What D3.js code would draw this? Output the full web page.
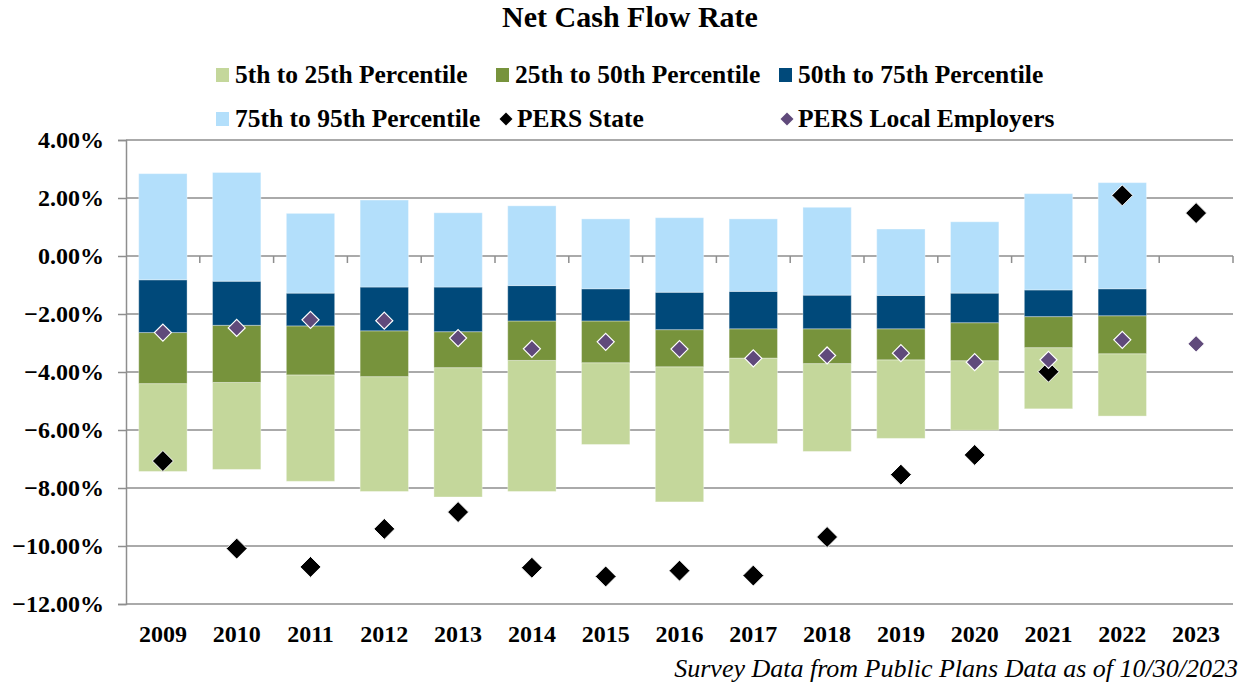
<!DOCTYPE html>
<html>
<head>
<meta charset="utf-8">
<script src="https://cdn.jsdelivr.net/npm/d3@7"></script>
<style>
  body { margin: 0; background: #fff; }
  text { font-family: "Liberation Serif", "Times New Roman", serif; }
</style>
</head>
<body>
<div id="chart"></div>
<script>
// data (percent)
const years = ['2009', '2010', '2011', '2012', '2013', '2014', '2015', '2016', '2017', '2018', '2019', '2020', '2021', '2022', '2023'];
const p5 = [-7.43, -7.36, -7.77, -8.12, -8.31, -8.12, -6.50, -8.48, -6.47, -6.74, -6.29, -6.01, -5.27, -5.52, null];
const p25 = [-4.40, -4.36, -4.10, -4.16, -3.85, -3.60, -3.68, -3.82, -3.52, -3.71, -3.58, -3.61, -3.16, -3.37, null];
const p50 = [-2.64, -2.39, -2.41, -2.58, -2.61, -2.24, -2.24, -2.54, -2.51, -2.51, -2.51, -2.30, -2.09, -2.06, null];
const p75 = [-0.82, -0.87, -1.28, -1.07, -1.07, -1.02, -1.13, -1.25, -1.22, -1.35, -1.36, -1.28, -1.17, -1.13, null];
const p95 = [2.84, 2.88, 1.47, 1.93, 1.49, 1.73, 1.28, 1.32, 1.28, 1.68, 0.93, 1.18, 2.15, 2.53, null];
const persState = [-7.07, -10.09, -10.72, -9.41, -8.83, -10.75, -11.05, -10.85, -11.02, -9.69, -7.54, -6.86, -3.99, 2.09, 1.48];
const persLocal = [-2.64, -2.48, -2.20, -2.23, -2.83, -3.20, -2.96, -3.21, -3.53, -3.43, -3.35, -3.66, -3.58, -2.89, -3.03];
const yTicks = [4, 2, 0, -2, -4, -6, -8, -10, -12];

const title = 'Net Cash Flow Rate';
const note = 'Survey Data from Public Plans Data as of 10/30/2023';

const width = 1243;
const height = 686;
const paddingLeft = 126;
const paddingRight = 10;
const paddingTop = 140;
const paddingBottom = 82;

// segments: lower / upper percentile arrays
const bands = [
    { name: '5th to 25th Percentile', lo: p5, hi: p25, color: '#c4d79b' },
    { name: '25th to 50th Percentile', lo: p25, hi: p50, color: '#77933c' },
    { name: '50th to 75th Percentile', lo: p50, hi: p75, color: '#00497a' },
    { name: '75th to 95th Percentile', lo: p75, hi: p95, color: '#b3dffb' }
];

const svg = d3.select('#chart').append('svg')
    .attr('width', width)
    .attr('height', height);

const xScale = d3.scaleBand()
    .domain(years)
    .range([paddingLeft, width - paddingRight])
    .paddingInner(0.345)
    .paddingOuter(0.1725);

const yScale = d3.scaleLinear()
    .domain([-12, 4])
    .range([height - paddingBottom, paddingTop]);

// grid
svg.append('g')
    .selectAll('line')
    .data(yTicks)
    .join('line')
    .attr('x1', paddingLeft)
    .attr('x2', width - paddingRight)
    .attr('y1', (d) => yScale(d))
    .attr('y2', (d) => yScale(d))
    .attr('stroke', '#8e8e8e')
    .attr('stroke-width', 1.5);

// y axis
const yAxis = d3.axisLeft(yScale)
    .tickValues(yTicks)
    .tickSize(8)
    .tickPadding(14)
    .tickFormat((d) => d3.format('.2f')(d) + '%');
const gy = svg.append('g')
    .attr('transform', `translate(${paddingLeft},0)`)
    .call(yAxis);
gy.select('.domain').attr('stroke', '#8e8e8e').attr('stroke-width', 1.5);
gy.selectAll('.tick line').attr('stroke', '#8e8e8e').attr('stroke-width', 1.5);
gy.selectAll('.tick text')
    .attr('fill', '#000')
    .attr('font-size', 24)
    .attr('font-weight', 'bold');

// category ticks on the zero line
const step = xScale.step();
const boundaries = d3.range(1, years.length + 1).map((i) => paddingLeft + i * step);
svg.append('g')
    .selectAll('line')
    .data(boundaries)
    .join('line')
    .attr('x1', (d) => d)
    .attr('x2', (d) => d)
    .attr('y1', yScale(0))
    .attr('y2', yScale(0) + 7)
    .attr('stroke', '#8e8e8e')
    .attr('stroke-width', 1.5);

// bars
bands.forEach((b) => {
    svg.append('g')
        .selectAll('rect')
        .data(years.filter((y, i) => b.lo[i] !== null))
        .join('rect')
        .attr('x', (d) => xScale(d))
        .attr('width', xScale.bandwidth())
        .attr('y', (d) => yScale(b.hi[years.indexOf(d)]))
        .attr('height', (d) => yScale(b.lo[years.indexOf(d)]) - yScale(b.hi[years.indexOf(d)]))
        .attr('fill', b.color)
        .attr('stroke', 'rgba(255,255,255,0.35)')
        .attr('stroke-width', 1);
});

// diamonds
const diamond = (r) => `M0,${-r}L${r},0L0,${r}L${-r},0Z`;
svg.append('g')
    .selectAll('path')
    .data(years)
    .join('path')
    .attr('transform', (d, i) => `translate(${xScale(d) + xScale.bandwidth() / 2},${yScale(persState[i])})`)
    .attr('d', diamond(10.5))
    .attr('fill', '#000')
    .attr('stroke', '#fff')
    .attr('stroke-width', 1);
svg.append('g')
    .selectAll('path')
    .data(years)
    .join('path')
    .attr('transform', (d, i) => `translate(${xScale(d) + xScale.bandwidth() / 2},${yScale(persLocal[i])})`)
    .attr('d', diamond(8.5))
    .attr('fill', '#604a7b')
    .attr('stroke', '#fff')
    .attr('stroke-width', 1.2);

// x labels
svg.append('g')
    .selectAll('text')
    .data(years)
    .join('text')
    .attr('x', (d) => xScale(d) + xScale.bandwidth() / 2)
    .attr('y', 642)
    .attr('text-anchor', 'middle')
    .attr('font-size', 24)
    .attr('font-weight', 'bold')
    .text((d) => d);

// title
svg.append('text')
    .attr('x', 630)
    .attr('y', 27)
    .attr('text-anchor', 'middle')
    .attr('font-size', 30)
    .attr('font-weight', 'bold')
    .text(title);

// legend
const legendItems = [
    { name: bands[0].name, color: bands[0].color, type: 'rect', x: 216, y: 75 },
    { name: bands[1].name, color: bands[1].color, type: 'rect', x: 496, y: 75 },
    { name: bands[2].name, color: bands[2].color, type: 'rect', x: 779, y: 75 },
    { name: bands[3].name, color: bands[3].color, type: 'rect', x: 216, y: 119 },
    { name: 'PERS State', color: '#000', type: 'diamond', x: 499, y: 119 },
    { name: 'PERS Local Employers', color: '#604a7b', type: 'diamond', x: 780, y: 119 }
];
const lg = svg.append('g').selectAll('g')
    .data(legendItems)
    .join('g')
    .attr('transform', (d) => `translate(${d.x},${d.y})`);
lg.filter((d) => d.type === 'rect')
    .append('rect')
    .attr('x', 0)
    .attr('y', -7)
    .attr('width', 13)
    .attr('height', 14)
    .attr('fill', (d) => d.color);
lg.filter((d) => d.type === 'diamond')
    .append('path')
    .attr('transform', 'translate(7,0)')
    .attr('d', diamond(6.5))
    .attr('fill', (d) => d.color);
lg.append('text')
    .attr('x', (d) => (d.type === 'rect' ? 19 : 18))
    .attr('y', 8)
    .attr('font-size', 25.5)
    .attr('font-weight', 'bold')
    .text((d) => d.name);

// note
svg.append('text')
    .attr('x', 1238)
    .attr('y', 677)
    .attr('text-anchor', 'end')
    .attr('font-size', 26)
    .attr('font-style', 'italic')
    .text(note);
</script>
</body>
</html>
